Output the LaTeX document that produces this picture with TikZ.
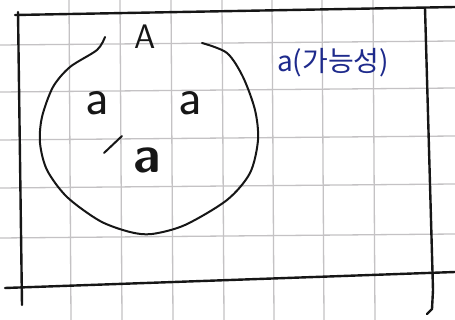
\documentclass[tikz,border=0pt]{standalone}
\usepackage{fontspec}
\usepackage{tikz}
\newfontfamily\notefont{Noto Sans CJK KR}
\definecolor{GridGray}{HTML}{C4C2C4}
\definecolor{InkBlack}{HTML}{161616}
\definecolor{NoteBlue}{HTML}{1E2A8C}
\begin{document}
\begin{tikzpicture}[x=1pt,y=-1pt,
    gridline/.style={GridGray,line width=1.3pt},
    border/.style={InkBlack,line width=2.4pt,line cap=round},
    setline/.style={InkBlack,line width=2pt,line cap=round},
    elem/.style={font=\sffamily\fontsize{52}{52}\selectfont,text=InkBlack,inner sep=0pt},
    setname/.style={font=\sffamily\fontsize{34}{34}\selectfont,text=InkBlack,inner sep=0pt},
    note/.style={font=\notefont\fontsize{28}{28}\selectfont,text=NoteBlue,inner sep=0pt}
  ]
    \fill[white] (0,0) rectangle (455,320);
    \useasboundingbox (0,0) rectangle (455,320);
    % grid paper
    \foreach \x in {69,120,171,222,272,322,373}
      \draw[gridline] (\x,0) -- (\x+2,320);
    \foreach \y in {45,92,140,188,238}
      \draw[gridline] (0,\y) -- (455,\y-4);
    % frame
    \draw[border] (15,15) -- (455,7);
    \draw[border] (5,288) -- (455,272);
    \draw[border] (18,12) -- (22,305);
    \draw[border] (425,8) -- (433,290) -- (432,309) -- (427,314);
    % set
    \draw[setline] plot[smooth] coordinates {(105,37) (97,50) (70,67) (53,87) (42,117) (40,143) (47,170) (67,197) (100,221) (130,232) (152,234) (185,225) (227,200) (250,173) (258,140) (255,110) (243,77) (227,53) (202,43)};
    \draw[setline] (122,136) -- (104,153);
    \node[setname] (setA) at (145,37) {A};
    \node[elem] (left) at (97,103) {a};
    \node[elem] (right) at (190,103) {a};
    \node[elem,font=\sffamily\bfseries\fontsize{52}{52}\selectfont] (low) at (147,160) {a};
    \node[note] (hint) at (333,63) {a(가능성)};
\end{tikzpicture}
\end{document}
